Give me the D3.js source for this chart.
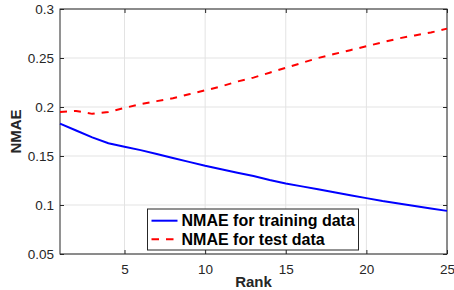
<!DOCTYPE html>
<html>
<head>
<meta charset="utf-8">
<script src="https://cdn.jsdelivr.net/npm/d3@7"></script>
<style>
  body { margin: 0; background: #fff; }
  text { font-family: "Liberation Sans", Arial, sans-serif; }
</style>
</head>
<body>
<svg id="chart" width="454" height="290"></svg>
<script>
// ranks on the x axis
var ranks = d3.range(1, 26);
// NMAE values
var trainNMAE = [0.183, 0.176, 0.169, 0.163, 0.1595, 0.156, 0.152, 0.148, 0.144, 0.140,
                 0.1365, 0.133, 0.1295, 0.1255, 0.122, 0.119, 0.116, 0.113, 0.110, 0.107,
                 0.104, 0.1015, 0.099, 0.0965, 0.094];
var testNMAE = [0.195, 0.196, 0.193, 0.195, 0.199, 0.203, 0.206, 0.209, 0.213, 0.217,
                0.221, 0.226, 0.230, 0.235, 0.240, 0.245, 0.250, 0.254, 0.258, 0.262,
                0.266, 0.270, 0.273, 0.276, 0.280];
var xTicks = [5, 10, 15, 20, 25];
var yTicks = [0.05, 0.1, 0.15, 0.2, 0.25, 0.3];
var legendLabels = ['NMAE for training data', 'NMAE for test data'];

var svg = d3.select('#chart');
var margin = {left: 60, top: 9, right: 7, bottom: 36};
var width = 454 - margin.left - margin.right,
    height = 290 - margin.top - margin.bottom;

var x = d3.scaleLinear().domain([1, 25]).range([0, width]);
var y = d3.scaleLinear().domain([0.05, 0.3]).range([height, 0]);

var g = svg.append('g').attr('transform', 'translate(' + margin.left + ',' + margin.top + ')');

// grid
g.append('g').selectAll('line').data(xTicks).enter().append('line')
  .attr('x1', x).attr('x2', x).attr('y1', 0).attr('y2', height)
  .attr('stroke', '#e3e3e3').attr('stroke-width', 1);
g.append('g').selectAll('line').data(yTicks).enter().append('line')
  .attr('y1', y).attr('y2', y).attr('x1', 0).attr('x2', width)
  .attr('stroke', '#e3e3e3').attr('stroke-width', 1);

// axes (ticks inward, box all round)
function styleAxis(sel) {
  sel.select('.domain').remove();
  sel.selectAll('line').attr('stroke', '#262626');
  sel.selectAll('text').attr('fill', '#262626').style('font-size', '13.5px');
}
g.append('g').attr('transform', 'translate(0,' + height + ')')
  .call(d3.axisBottom(x).tickValues(xTicks).tickSizeInner(-4).tickPadding(10))
  .call(styleAxis);
g.append('g')
  .call(d3.axisTop(x).tickValues(xTicks).tickSizeInner(-4).tickFormat(''))
  .call(styleAxis);
g.append('g')
  .call(d3.axisLeft(y).tickValues(yTicks).tickSizeInner(-4).tickPadding(6).tickFormat(d3.format('')))
  .call(styleAxis);
g.append('g').attr('transform', 'translate(' + width + ',0)')
  .call(d3.axisRight(y).tickValues(yTicks).tickSizeInner(-4).tickFormat(''))
  .call(styleAxis);
g.append('rect').attr('width', width).attr('height', height)
  .attr('fill', 'none').attr('stroke', '#262626').attr('stroke-width', 1);

// lines
var line = d3.line().x(function(d, i) { return x(ranks[i]); }).y(function(d) { return y(d); });
g.append('path').datum(trainNMAE).attr('d', line)
  .attr('fill', 'none').attr('stroke', '#0000ff').attr('stroke-width', 2);
g.append('path').datum(testNMAE).attr('d', line)
  .attr('fill', 'none').attr('stroke', '#ff0000').attr('stroke-width', 2)
  .attr('stroke-dasharray', '7,7');

// labels
svg.append('text').attr('x', margin.left + width / 2).attr('y', 286.5)
  .attr('text-anchor', 'middle').attr('font-weight', 'bold').style('font-size', '15px')
  .attr('fill', '#262626').text('Rank');
svg.append('text').attr('transform', 'translate(20.5,' + (margin.top + height / 2) + ') rotate(-90)')
  .attr('text-anchor', 'middle').attr('font-weight', 'bold').style('font-size', '15px')
  .attr('fill', '#262626').text('NMAE');

// legend
var lg = svg.append('g').attr('transform', 'translate(147.5,209)');
lg.append('rect').attr('width', 211).attr('height', 41)
  .attr('fill', '#fff').attr('stroke', '#262626').attr('stroke-width', 1);
var colors = ['#0000ff', '#ff0000'];
var dashes = [null, '7.5,7'];
legendLabels.forEach(function(t, i) {
  var yy = 11.7 + i * 18.6;
  lg.append('line').attr('x1', 4).attr('x2', 30).attr('y1', yy).attr('y2', yy)
    .attr('stroke', colors[i]).attr('stroke-width', 2).attr('stroke-dasharray', dashes[i]);
  lg.append('text').attr('x', 34).attr('y', yy + 5.5).attr('font-weight', 'bold')
    .style('font-size', '16px').attr('fill', '#000').text(t);
});
</script>
</body>
</html>
